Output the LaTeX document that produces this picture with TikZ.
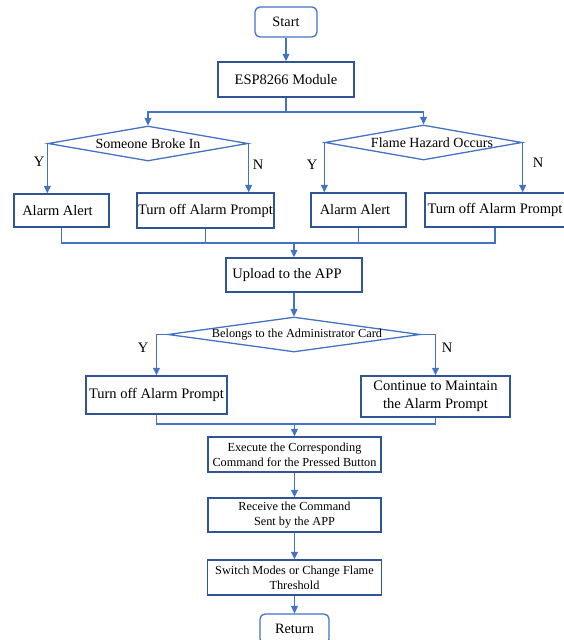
\documentclass[tikz,border=0pt]{standalone}
\usepackage{fontspec}
\setmainfont{Liberation Serif}
\usetikzlibrary{shapes.geometric,arrows.meta}
\definecolor{boxc}{RGB}{47,85,151}
\definecolor{linec}{RGB}{68,114,196}
\begin{document}
\begin{tikzpicture}[x=1pt,y=-1pt,
  box/.style={draw=boxc,line width=1.4pt,inner sep=0pt,align=center,font=\fontsize{14.5}{18}\selectfont},
  sbox/.style={box,font=\fontsize{12.3}{15}\selectfont},
  term/.style={draw=linec,line width=1.3pt,rounded corners=5pt,inner sep=0pt,font=\fontsize{14.3}{17}\selectfont},
  dia/.style={draw=linec,line width=1.3pt,shape=diamond,inner sep=0pt,font=\fontsize{14}{17}\selectfont},
  conn/.style={draw=linec,line width=1.3pt},
  arr/.style={conn,-{Triangle[length=7.5pt,width=7pt]}},
  lab/.style={font=\fontsize{14.5}{18}\selectfont,inner sep=0pt}]
\useasboundingbox (0,0) rectangle (563,640);

% nodes
\node[term,minimum width=62pt,minimum height=30pt] (start) at (286,22) {Start};
\node[box,minimum width=136pt,minimum height=35pt] (esp) at (286,79.5) {ESP8266 Module};
\node[dia,minimum width=200pt,minimum height=35pt] (d1) at (148,143.5) {\makebox[0pt]{Someone Broke In}};
\node[dia,minimum width=197pt,minimum height=35pt] (d2) at (423.5,142.5) {\makebox[0pt]{\hspace*{17pt}Flame Hazard Occurs}};
\node[box,minimum width=95pt,minimum height=33pt] (aa1) at (61.5,210.5) {\hspace*{-8pt}Alarm Alert};
\node[box,minimum width=137pt,minimum height=35pt] (to1) at (205.5,210.5) {Turn off Alarm Prompt};
\node[box,minimum width=95pt,minimum height=34pt] (aa2) at (358.5,210) {\hspace*{-7pt}Alarm Alert};
\node[box,minimum width=140pt,minimum height=34pt] (to2) at (495,210) {Turn off Alarm Prompt};
\node[box,minimum width=136pt,minimum height=34pt] (up) at (294,275) {\hspace*{-14pt}Upload to the APP};
\node[dia,minimum width=252pt,minimum height=35pt] (d3) at (294,334.5) {\makebox[0pt]{\fontsize{12.3}{15}\selectfont\hspace*{6pt}Belongs to the Administrator Card}};
\node[box,minimum width=141pt,minimum height=38pt] (to3) at (156.5,395) {Turn off Alarm Prompt};
\node[box,minimum width=149pt,minimum height=41pt] (cont) at (435.5,396.5) {Continue to Maintain\\the Alarm Prompt};
\node[sbox,minimum width=173pt,minimum height=35pt] (exec) at (294.5,454.5) {Execute the Corresponding\\Command for the Pressed Button};
\node[sbox,minimum width=173pt,minimum height=34pt] (recv) at (294.5,515) {Receive the Command\\Sent by the APP};
\node[sbox,minimum width=174pt,minimum height=35pt] (sw) at (294.5,577.5) {Switch Modes or Change Flame\\Threshold};
\node[term,minimum width=69pt,minimum height=30pt] (ret) at (294.5,629) {Return};

% labels
\node[lab] (y1) at (39,162) {Y};
\node[lab] (n1) at (258,165) {N};
\node[lab] (y2) at (312,165) {Y};
\node[lab] (n2) at (538,163) {N};
\node[lab] (y3) at (143,348) {Y};
\node[lab] (n3) at (447,348) {N};

% junction coordinates
\coordinate (b0) at (286,112);
\coordinate (b1) at (294,243);
\coordinate (b2) at (294.5,424);

% connectors
\draw[arr] (start) -- (esp);
\draw[conn] (esp.south) -- (b0);
\draw[arr] (b0) -| (d1.north);
\draw[arr] (b0) -| (d2.north);
\draw[arr] (d1.west) -- (d1.west |- aa1.north);
\draw[arr] (d1.east) -- (d1.east |- to1.north);
\draw[arr] (d2.west) -- (d2.west |- aa2.north);
\draw[arr] (d2.east) -- (d2.east |- to2.north);
\draw[conn] (aa1.south) -- (aa1.south |- b1) -- (to2.south |- b1) -- (to2.south);
\draw[conn] (to1.south) -- (to1.south |- b1);
\draw[conn] (aa2.south) -- (aa2.south |- b1);
\draw[arr] (b1) -- (up.north);
\draw[arr] (up) -- (d3);
\draw[arr] (d3.west) -| (to3.north);
\draw[arr] (d3.east) -| (cont.north);
\draw[conn] (to3.south) -- (to3.south |- b2) -- (cont.south |- b2) -- (cont.south);
\draw[arr] (b2) -- (exec.north);
\draw[arr] (exec) -- (recv);
\draw[arr] (recv) -- (sw);
\draw[arr] (sw) -- (ret);
\end{tikzpicture}
\end{document}
